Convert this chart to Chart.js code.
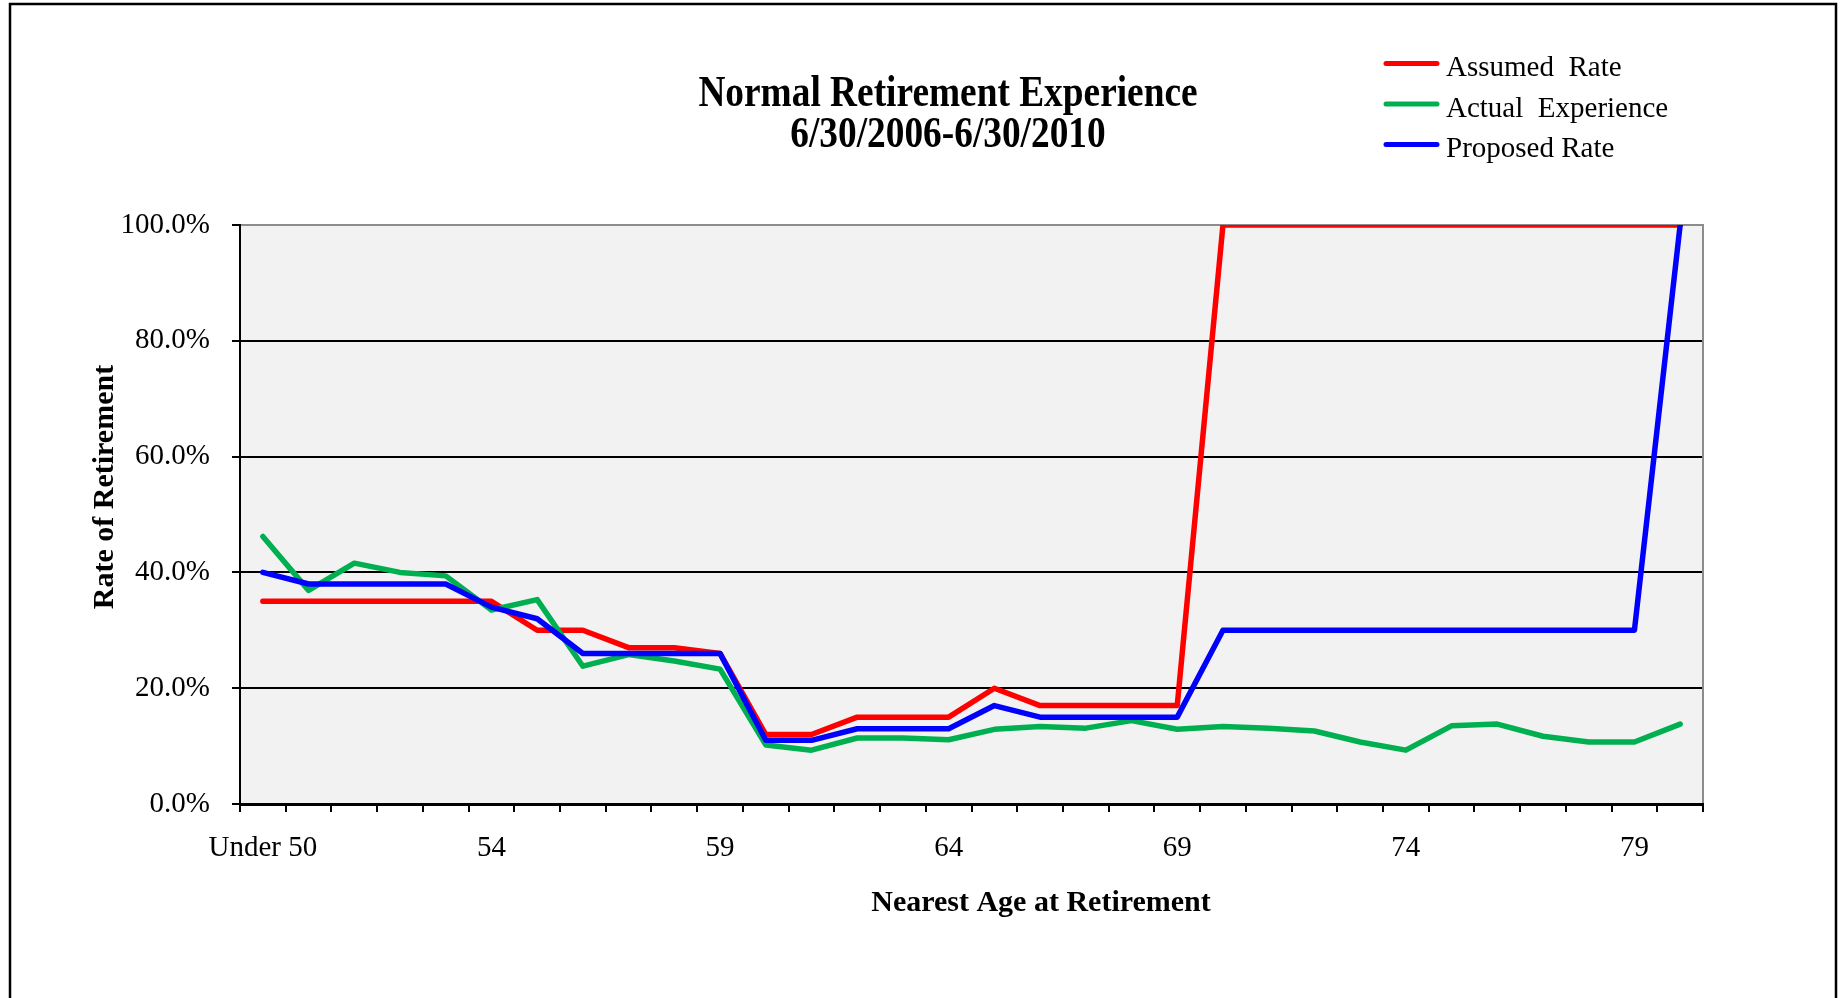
<!DOCTYPE html>
<html>
<head>
<meta charset="utf-8">
<title>Normal Retirement Experience</title>
<script src="https://cdn.jsdelivr.net/npm/chart.js@4.4.1/dist/chart.umd.min.js"></script>
<style>
  html, body { margin: 0; padding: 0; background: #fff; overflow: hidden; }
  #chart { position: absolute; left: 0; top: 0; }
</style>
</head>
<body>
<canvas id="chart" width="1847" height="998"></canvas>
<script>
// Nearest age at retirement (category axis)
const ages = ['Under 50', '50', '51', '52', '53', '54', '55', '56', '57', '58', '59',
              '60', '61', '62', '63', '64', '65', '66', '67', '68', '69',
              '70', '71', '72', '73', '74', '75', '76', '77', '78', '79', '80'];

// Rates of retirement, in percent
const assumedRate = [35, 35, 35, 35, 35, 35, 30, 30, 27, 27, 26,
                     12, 12, 15, 15, 15, 20, 17, 17, 17, 17,
                     100, 100, 100, 100, 100, 100, 100, 100, 100, 100, 100];
const actualExperience = [46.2, 36.9, 41.6, 40.0, 39.4, 33.5, 35.3, 23.8, 25.8, 24.7, 23.3,
                          10.2, 9.3, 11.4, 11.4, 11.1, 12.9, 13.4, 13.1, 14.4, 12.9,
                          13.4, 13.1, 12.6, 10.7, 9.3, 13.5, 13.8, 11.7, 10.7, 10.7, 13.8];
const proposedRate = [40, 38, 38, 38, 38, 34, 32, 26, 26, 26, 26,
                      11, 11, 13, 13, 13, 17, 15, 15, 15, 15,
                      30, 30, 30, 30, 30, 30, 30, 30, 30, 30, 100];

const seriesNames = ['Assumed  Rate', 'Actual  Experience', 'Proposed Rate'];
const titleLines = ['Normal Retirement Experience', '6/30/2006-6/30/2010'];
const xTitle = 'Nearest Age at Retirement';
const yTitle = 'Rate of Retirement';
const labelEvery = 5;

const SERIF = '"Liberation Serif", "Times New Roman", serif';

// Page frame, plot background and the grey top/right edge of the plot area
const plotFrame = {
  id: 'plotFrame',
  beforeDraw(chart) {
    const { ctx, chartArea: a } = chart;
    ctx.save();
    ctx.fillStyle = '#fff';
    ctx.fillRect(0, 0, chart.width, chart.height);
    ctx.strokeStyle = '#000';
    ctx.lineWidth = 2.5;
    ctx.beginPath();
    ctx.moveTo(10, chart.height + 10);
    ctx.lineTo(10, 4);
    ctx.lineTo(chart.width - 11, 4);
    ctx.lineTo(chart.width - 11, chart.height + 10);
    ctx.stroke();
    ctx.fillStyle = '#F2F2F2';
    ctx.fillRect(a.left, a.top, a.right - a.left, a.bottom - a.top);
    ctx.restore();
  },
  beforeDatasetsDraw(chart) {
    const { ctx, chartArea: a } = chart;
    ctx.save();
    ctx.strokeStyle = '#8C8C8C';
    ctx.lineWidth = 2;
    ctx.beginPath();
    ctx.moveTo(a.left + 1, a.top);
    ctx.lineTo(a.right, a.top);
    ctx.lineTo(a.right, a.bottom - 1);
    ctx.stroke();
    ctx.restore();
  }
};

// Title, axis titles and the legend block
const textLayer = {
  id: 'textLayer',
  afterDraw(chart) {
    const { ctx } = chart;
    ctx.save();
    ctx.fillStyle = '#000';

    // chart title (condensed bold)
    ctx.font = 'bold 45px ' + SERIF;
    ctx.textAlign = 'center';
    ctx.textBaseline = 'alphabetic';
    titleLines.forEach((t, i) => {
      ctx.save();
      ctx.translate(948, 106 + i * 41);
      ctx.scale(0.83, 1);
      ctx.fillText(t, 0, 0);
      ctx.restore();
    });

    // axis titles
    ctx.font = 'bold 30px ' + SERIF;
    ctx.fillText(xTitle, 1041, 911);
    ctx.save();
    ctx.translate(113, 487);
    ctx.rotate(-Math.PI / 2);
    ctx.fillText(yTitle, 0, 0);
    ctx.restore();

    // legend
    ctx.font = '29px ' + SERIF;
    ctx.textAlign = 'left';
    chart.data.datasets.forEach((ds, i) => {
      const y = 63.5 + i * 40.5;
      ctx.strokeStyle = ds.borderColor;
      ctx.lineWidth = 5;
      ctx.lineCap = 'round';
      ctx.beginPath();
      ctx.moveTo(1386, y);
      ctx.lineTo(1437, y);
      ctx.stroke();
      ctx.fillText(ds.label, 1446, y + 12.5);
    });
    ctx.restore();
  }
};

const lineStyle = {
  borderWidth: 5.5,
  pointRadius: 0,
  pointHoverRadius: 0,
  tension: 0,
  borderCapStyle: 'round',
  borderJoinStyle: 'round',
  fill: false
};

new Chart(document.getElementById('chart'), {
  type: 'line',
  data: {
    labels: ages,
    datasets: [
      Object.assign({ label: seriesNames[0], data: assumedRate, borderColor: '#FF0000', order: 3 }, lineStyle),
      Object.assign({ label: seriesNames[1], data: actualExperience, borderColor: '#00B050', order: 2 }, lineStyle),
      Object.assign({ label: seriesNames[2], data: proposedRate, borderColor: '#0000FF', order: 1 }, lineStyle)
    ]
  },
  options: {
    responsive: false,
    animation: false,
    devicePixelRatio: 1,
    layout: { padding: { top: 225, right: 144, left: 0, bottom: 0 } },
    plugins: {
      legend: { display: false },
      title: { display: false },
      tooltip: { enabled: false }
    },
    scales: {
      x: {
        type: 'category',
        offset: true,
        grid: {
          display: true,
          offset: true,
          drawOnChartArea: false,
          drawTicks: true,
          tickLength: 8,
          color: '#000',
          lineWidth: 2
        },
        border: { display: true, color: '#000', width: 3 },
        ticks: {
          autoSkip: false,
          maxRotation: 0,
          minRotation: 0,
          padding: 19,
          color: '#000',
          font: { family: SERIF, size: 29 },
          callback(value, index) {
            return index % labelEvery === 0 ? this.getLabelForValue(value) : '';
          }
        },
        afterFit(scale) { scale.height = 194; }
      },
      y: {
        min: 0,
        max: 100,
        grid: {
          drawTicks: true,
          tickLength: 8,
          lineWidth: 2,
          tickWidth: 2,
          tickColor: '#000',
          color(ctx) {
            const v = ctx.tick && ctx.tick.value;
            return (v === 0 || v === 100) ? 'rgba(0,0,0,0)' : '#000';
          }
        },
        border: { display: true, color: '#000', width: 2 },
        ticks: {
          stepSize: 20,
          padding: 22,
          color: '#000',
          font: { family: SERIF, size: 29 },
          callback(value) { return value.toFixed(1) + '%'; }
        },
        afterFit(scale) { scale.width = 240; }
      }
    }
  },
  plugins: [plotFrame, textLayer]
});
</script>
</body>
</html>
